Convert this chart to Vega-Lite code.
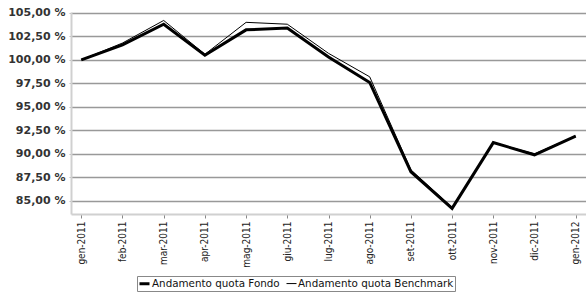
{
  "$schema": "https://vega.github.io/schema/vega-lite/v6.json",
  "width": 515,
  "height": 202,
  "autosize": {"type": "none"},
  "padding": {"left": 71, "top": 12, "right": 0, "bottom": 80},
  "background": "white",
  "config": {
    "view": {"stroke": null},
    "font": "DejaVu Sans"
  },
  "data": {
    "values": [
      {"mese": "gen-2011", "serie": "Andamento quota Fondo", "valore": 100.0},
      {"mese": "feb-2011", "serie": "Andamento quota Fondo", "valore": 101.6},
      {"mese": "mar-2011", "serie": "Andamento quota Fondo", "valore": 103.8},
      {"mese": "apr-2011", "serie": "Andamento quota Fondo", "valore": 100.5},
      {"mese": "mag-2011", "serie": "Andamento quota Fondo", "valore": 103.2},
      {"mese": "giu-2011", "serie": "Andamento quota Fondo", "valore": 103.4},
      {"mese": "lug-2011", "serie": "Andamento quota Fondo", "valore": 100.3},
      {"mese": "ago-2011", "serie": "Andamento quota Fondo", "valore": 97.6},
      {"mese": "set-2011", "serie": "Andamento quota Fondo", "valore": 88.1},
      {"mese": "ott-2011", "serie": "Andamento quota Fondo", "valore": 84.2},
      {"mese": "nov-2011", "serie": "Andamento quota Fondo", "valore": 91.2},
      {"mese": "dic-2011", "serie": "Andamento quota Fondo", "valore": 89.9},
      {"mese": "gen-2012", "serie": "Andamento quota Fondo", "valore": 91.9},
      {"mese": "gen-2011", "serie": "Andamento quota Benchmark", "valore": 100.0},
      {"mese": "feb-2011", "serie": "Andamento quota Benchmark", "valore": 101.8},
      {"mese": "mar-2011", "serie": "Andamento quota Benchmark", "valore": 104.2},
      {"mese": "apr-2011", "serie": "Andamento quota Benchmark", "valore": 100.6},
      {"mese": "mag-2011", "serie": "Andamento quota Benchmark", "valore": 104.0},
      {"mese": "giu-2011", "serie": "Andamento quota Benchmark", "valore": 103.8},
      {"mese": "lug-2011", "serie": "Andamento quota Benchmark", "valore": 100.7},
      {"mese": "ago-2011", "serie": "Andamento quota Benchmark", "valore": 98.2},
      {"mese": "set-2011", "serie": "Andamento quota Benchmark", "valore": 88.3},
      {"mese": "ott-2011", "serie": "Andamento quota Benchmark", "valore": 84.3},
      {"mese": "nov-2011", "serie": "Andamento quota Benchmark", "valore": 91.2},
      {"mese": "dic-2011", "serie": "Andamento quota Benchmark", "valore": 90.0},
      {"mese": "gen-2012", "serie": "Andamento quota Benchmark", "valore": 91.9}
    ]
  },
  "mark": {"type": "line", "strokeJoin": "miter"},
  "encoding": {
    "x": {
      "field": "mese",
      "type": "ordinal",
      "sort": null,
      "scale": {"type": "point", "padding": 0.25},
      "axis": {
        "title": null,
        "labelAngle": -90,
        "labelFont": "DejaVu Sans Condensed",
        "labelFontSize": 10,
        "labelColor": "#222",
        "labelPadding": 3,
        "tickColor": "#888",
        "tickSize": 4,
        "domainColor": "#d0d0d0",
        "domainWidth": 2,
        "grid": false
      }
    },
    "y": {
      "field": "valore",
      "type": "quantitative",
      "scale": {"domain": [83.6, 105.1], "nice": false, "zero": false},
      "axis": {
        "title": null,
        "values": [85, 87.5, 90, 92.5, 95, 97.5, 100, 102.5, 105],
        "labelExpr": "replace(format(datum.value, '.2f'), '.', ',') + ' %'",
        "labelFontSize": 11,
        "labelFontWeight": "bold",
        "labelColor": "#333",
        "labelPadding": 4,
        "tickSize": 2,
        "tickColor": "#bbb",
        "domainColor": "#d0d0d0",
        "domainWidth": 2,
        "grid": true,
        "gridColor": "#999",
        "gridWidth": 1.6
      }
    },
    "color": {
      "field": "serie",
      "type": "nominal",
      "scale": {"domain": ["Andamento quota Fondo", "Andamento quota Benchmark"], "range": ["#000000", "#000000"]},
      "legend": {
        "title": null,
        "orient": "none",
        "direction": "horizontal",
        "legendX": 66,
        "legendY": 264,
        "symbolType": "stroke",
        "symbolSize": 100,
        "labelFontSize": 10.35,
        "labelColor": "#111",
        "labelOffset": 1,
        "columnPadding": 4,
        "strokeColor": "#888",
        "padding": 1
      }
    },
    "strokeWidth": {
      "field": "serie",
      "type": "nominal",
      "scale": {"domain": ["Andamento quota Fondo", "Andamento quota Benchmark"], "range": [3, 1]},
      "legend": {
        "title": null,
        "orient": "none",
        "direction": "horizontal",
        "legendX": 66,
        "legendY": 264,
        "symbolType": "stroke",
        "symbolSize": 100,
        "labelFontSize": 10.35,
        "labelColor": "#111",
        "labelOffset": 1,
        "columnPadding": 4,
        "strokeColor": "#888",
        "padding": 1
      }
    }
  }
}
